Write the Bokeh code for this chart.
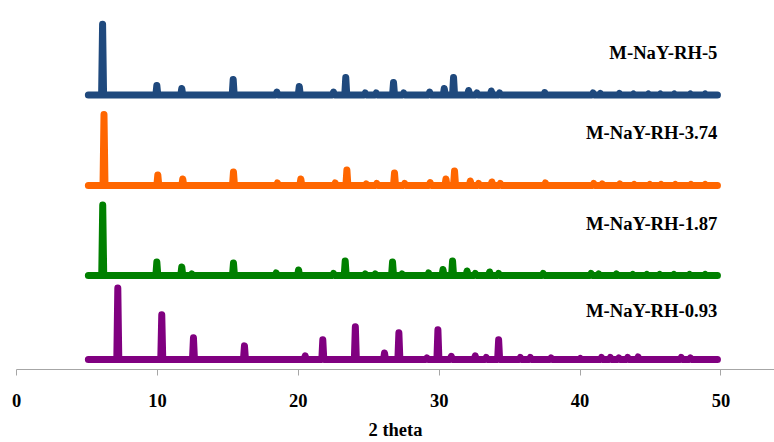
from bokeh.plotting import figure
from bokeh.models import Range1d, FixedTicker
from bokeh.core.properties import value
from bokeh.embed import file_html
from bokeh.resources import INLINE

# ---- data ----
series_names = ["M-NaY-RH-5", "M-NaY-RH-3.74", "M-NaY-RH-1.87", "M-NaY-RH-0.93"]
scan_start = 5.1
scan_end = 49.75

rh5_pos = [6.11, 9.96, 11.73, 15.38, 18.48, 20.07, 22.50, 23.37, 24.75, 25.53, 26.76, 27.48,
           29.32, 30.36, 31.02, 32.09, 32.68, 33.70, 34.29, 37.49, 40.92, 41.44, 42.79, 43.79,
           44.85, 45.70, 46.69, 47.83, 48.88]
rh5_int = [70.5, 9.5, 6.5, 15.5, 3, 8.5, 3, 17.5, 2, 2, 12.5, 2,
           3, 6.5, 17.5, 4.5, 2, 4, 2, 2.5, 2, 1.5, 1.5, 1,
           1, 1, 1, 1, 1]

rh374_pos = [6.21, 10.03, 11.80, 15.40, 18.52, 20.18, 22.62, 23.45, 24.82, 25.57, 26.83, 27.55,
             29.36, 30.48, 31.09, 32.21, 32.80, 33.74, 34.34, 37.54, 40.97, 41.57, 42.82, 43.84,
             44.95, 45.75, 46.76, 47.87, 48.88]
rh374_int = [70.5, 10.5, 6.5, 13.5, 2.5, 6.5, 2.5, 15.5, 1.5, 2, 12.5, 2,
             3, 6.5, 14.5, 4.5, 2, 3.5, 2, 2.5, 2, 1.5, 1.5, 1,
             1, 1, 1, 1, 1]

rh187_pos = [6.12, 9.96, 11.73, 12.44, 15.40, 18.43, 20.02, 22.50, 23.33, 24.75, 25.46, 26.69,
             27.36, 29.25, 30.27, 30.95, 31.98, 32.56, 33.58, 34.22, 37.38, 40.78, 41.32, 42.58,
             43.74, 44.74, 45.65, 46.66, 47.77, 48.88]
rh187_int = [70, 13.5, 8.5, 1.5, 12.5, 2.5, 5.5, 2, 14.5, 1.5, 1.5, 13.5,
             1.5, 2.5, 6, 14.5, 4.5, 2, 3.5, 2, 2, 2, 1.5, 1.5,
             1, 1, 1, 1, 1, 1]

rh093_pos = [7.19, 10.31, 12.56, 16.18, 20.49, 21.74, 24.05, 26.12, 27.14, 29.13, 29.91, 30.86,
             32.56, 33.34, 34.22, 35.76, 36.47, 37.94, 40.02, 41.52, 42.15, 42.75, 43.38, 44.12,
             47.18, 47.83]
rh093_int = [71, 44.5, 21.5, 13.5, 3.5, 19.5, 32.5, 6.5, 26.5, 1.5, 29.5, 3,
             3.5, 2, 19.5, 2, 2, 1.5, 1, 2, 2, 1.5, 2, 2.5,
             2, 1.5]

offsets = [273, 183, 93.5, 10]          # vertical stacking offsets (a.u.)
x_ticks = [0, 10, 20, 30, 40, 50]

# ---- style / layout ----
colors = ["#1F497D", "#FF6600", "#008000", "#800080"]
label_x = 49.75
label_y = [315, 235.3, 145.3, 58.7]
peak_half_width = 0.07
FONT = "Liberation Serif"

def pattern(pos, inten, offset):
    xs = [scan_start]
    ys = [offset]
    for x, h in sorted(zip(pos, inten)):
        xs += [x - peak_half_width, x, x + peak_half_width]
        ys += [offset, offset + h, offset]
    xs.append(scan_end)
    ys.append(offset)
    return xs, ys

p = figure(width=774, height=442, x_range=Range1d(0, 53.8), y_range=Range1d(0, 367),
           output_backend="svg", toolbar_location=None, y_axis_location=None,
           min_border_left=16, min_border_right=0, min_border_top=0, min_border_bottom=0)
p.grid.visible = False
p.outline_line_color = None
p.background_fill_color = "white"
p.border_fill_color = "white"

all_series = [(rh5_pos, rh5_int), (rh374_pos, rh374_int), (rh187_pos, rh187_int), (rh093_pos, rh093_int)]
for (pos, inten), off, col in zip(all_series, offsets, colors):
    xs, ys = pattern(pos, inten, off)
    p.line(xs, ys, line_width=7, line_color=col, line_join="round", line_cap="round")

p.text(x=[label_x] * 4, y=label_y, text=series_names, text_align="right", text_baseline="middle",
       text_font=value(FONT), text_font_style="bold", text_font_size="18.67px", text_color="black")

ax = p.xaxis[0]
ax.ticker = FixedTicker(ticks=x_ticks, minor_ticks=[])
ax.axis_line_color = "#A6A6A6"
ax.axis_line_width = 1
ax.major_tick_line_color = "#A6A6A6"
ax.major_tick_out = 6
ax.major_tick_in = 0
ax.minor_tick_line_color = None
ax.major_label_text_font = FONT
ax.major_label_text_font_style = "bold"
ax.major_label_text_font_size = "18.5px"
ax.major_label_text_color = "black"
ax.major_label_standoff = 18
ax.axis_label = "2 theta"
ax.axis_label_text_font = FONT
ax.axis_label_text_font_style = "bold"
ax.axis_label_text_font_size = "18.5px"
ax.axis_label_text_color = "black"
ax.axis_label_standoff = 10

open("out.html", "w").write(file_html(p, INLINE))
